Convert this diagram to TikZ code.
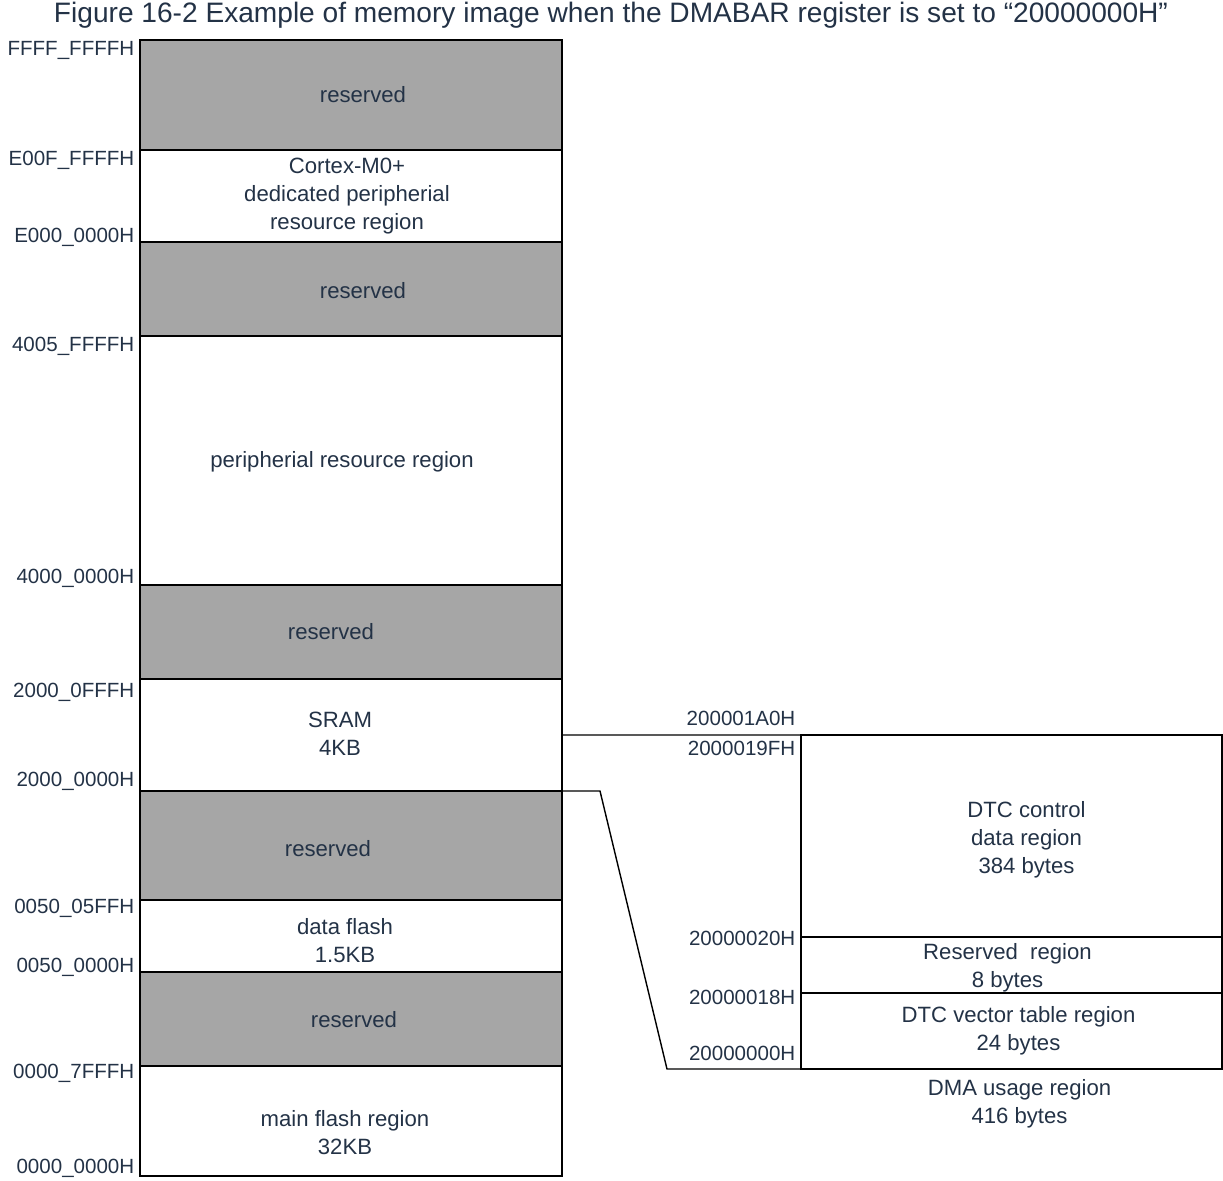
\documentclass[tikz,border=0pt]{standalone}
\usepackage{fontspec}
\setmainfont{Liberation Sans}
\usepackage{xcolor}
\usepackage{tikz}
\usetikzlibrary{positioning,calc}
\definecolor{memtext}{RGB}{35,50,70}
\definecolor{memgray}{RGB}{166,166,166}
\newcommand{\pu}{0.02cm}

\begin{document}
\begin{tikzpicture}[x=\pu, y=-\pu, line width=0.8pt,
    memblock/.style={draw=black, rectangle, minimum width=422*\pu, inner sep=0pt, outer sep=0pt},
    resblock/.style={memblock, fill=memgray},
    memlabel/.style={text=memtext, align=center, inner sep=0pt, font=\fontsize{12.6}{15.9}\selectfont},
    addr/.style={text=memtext, inner sep=0pt, anchor=east, font=\fontsize{11.7}{14}\selectfont}]
    \useasboundingbox (0,0) rectangle (1223,1180);

    % Title
    \node [text=memtext, font=\fontsize{16}{19}\selectfont] (title) at (611,15) {Figure 16-2 Example of memory image when the DMABAR register is set to “20000000H”};

    % Memory map column
    \node [resblock, minimum height=110*\pu] (res1) at (351,95) {};
    \node [memblock, minimum height=92*\pu, below=0pt of res1] (cortex) {};
    \node [resblock, minimum height=94*\pu, below=0pt of cortex] (res2) {};
    \node [memblock, minimum height=249*\pu, below=0pt of res2] (periph) {};
    \node [resblock, minimum height=94*\pu, below=0pt of periph] (res3) {};
    \node [memblock, minimum height=112*\pu, below=0pt of res3] (sram) {};
    \node [resblock, minimum height=109*\pu, below=0pt of sram] (res4) {};
    \node [memblock, minimum height=72*\pu, below=0pt of res4] (dflash) {};
    \node [resblock, minimum height=94*\pu, below=0pt of dflash] (res5) {};
    \node [memblock, minimum height=110*\pu, below=0pt of res5] (mflash) {};

    % Region names
    \node [memlabel] (tres1) at ($(res1.center)+(12,0)$) {reserved};
    \node [memlabel] (tcortex) at ($(cortex.center)+(-4,0)$) {Cortex-M0+\\dedicated peripherial\\resource region};
    \node [memlabel] (tres2) at ($(res2.center)+(12,2)$) {reserved};
    \node [memlabel] (tperiph) at ($(periph.center)+(-9,1)$) {peripherial resource region};
    \node [memlabel] (tres3) at ($(res3.center)+(-20,0)$) {reserved};
    \node [memlabel] (tsram) at ($(sram.center)+(-11,-1)$) {SRAM\\4KB};
    \node [memlabel] (tres4) at ($(res4.center)+(-23,3)$) {reserved};
    \node [memlabel] (tdflash) at ($(dflash.center)+(-6,5)$) {data flash\\1.5KB};
    \node [memlabel] (tres5) at ($(res5.center)+(3,1)$) {reserved};
    \node [memlabel] (tmflash) at ($(mflash.center)+(-6,12)$) {main flash region\\32KB};

    % Addresses
    \node [addr] (aFFFF) at (135,50) {FFFF\_FFFFH};
    \node [addr] (aE00F) at (135,160) {E00F\_FFFFH};
    \node [addr] (aE000) at (135,237) {E000\_0000H};
    \node [addr] (a4005) at (135,346) {4005\_FFFFH};
    \node [addr] (a4000) at (135,578) {4000\_0000H};
    \node [addr] (a2000F) at (135,692) {2000\_0FFFH};
    \node [addr] (a2000) at (135,781) {2000\_0000H};
    \node [addr] (a0050F) at (135,908) {0050\_05FFH};
    \node [addr] (a0050) at (135,967) {0050\_0000H};
    \node [addr] (a0000F) at (135,1073) {0000\_7FFFH};
    \node [addr] (a0000) at (135,1168) {0000\_0000H};

    % DMA usage region (detail of SRAM)
    \node [memblock, minimum width=421*\pu, minimum height=202*\pu, anchor=north west] (dtcctrl) at (801,735) {};
    \node [memblock, minimum width=421*\pu, minimum height=56*\pu, below=0pt of dtcctrl] (dtcres) {};
    \node [memblock, minimum width=421*\pu, minimum height=76*\pu, below=0pt of dtcres] (dtcvec) {};

    \node [memlabel] (tctrl) at ($(dtcctrl.center)+(15,4)$) {DTC control\\data region\\384 bytes};
    \node [memlabel] (tdres) at ($(dtcres.center)+(-4,3)$) {Reserved\ \ region\\8 bytes};
    \node [memlabel] (tvec) at ($(dtcvec.center)+(7,0)$) {DTC vector table region\\24 bytes};
    \node [memlabel] (tdma) at ($(dtcvec.south)+(8,35)$) {DMA usage region\\416 bytes};

    \node [addr] (d01A0) at (796,718) {200001A0H};
    \node [addr] (d019F) at (796,748) {2000019FH};
    \node [addr] (d0020) at (796,938) {20000020H};
    \node [addr] (d0018) at (796,997) {20000018H};
    \node [addr] (d0000) at (796,1053) {20000000H};

    % Expansion lines
    \draw (sram.east) -- (dtcctrl.north west);
    \draw (sram.south east) -- ++(38,0) -- ($(dtcvec.south west)+(-134,0)$) -- (dtcvec.south west);
\end{tikzpicture}
\end{document}
